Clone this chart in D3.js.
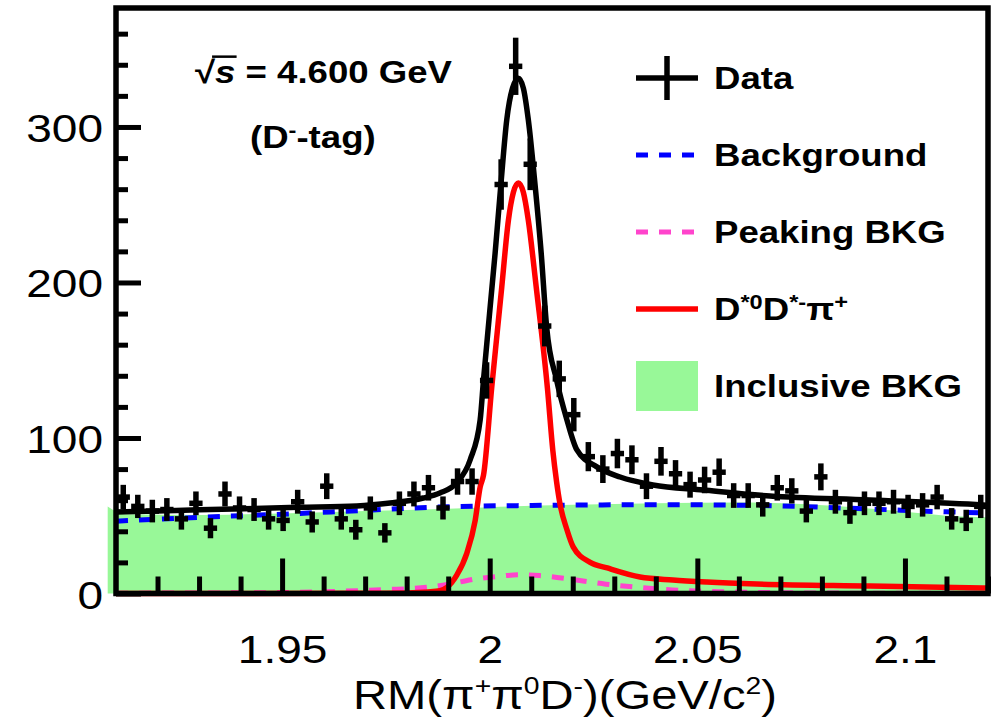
<!DOCTYPE html>
<html><head><meta charset="utf-8">
<script src="https://cdn.jsdelivr.net/npm/d3@7"></script>
<style>body{margin:0;background:#fff}svg{display:block}</style>
</head><body>
<script>
// ---------- data ----------
const binCenters = [1.91175,1.91525,1.91875,1.92225,1.92575,1.92925,1.93275,1.93625,1.93975,1.94325,
  1.94675,1.95025,1.95375,1.95725,1.96075,1.96425,1.96775,1.97125,1.97475,1.97825,
  1.98175,1.98525,1.98875,1.99225,1.99575,1.99925,2.00275,2.00625,2.00975,2.01325,
  2.01675,2.02025,2.02375,2.02725,2.03075,2.03425,2.03775,2.04125,2.04475,2.04825,
  2.05175,2.05525,2.05875,2.06225,2.06575,2.06925,2.07275,2.07625,2.07975,2.08325,
  2.08675,2.09025,2.09375,2.09725,2.10075,2.10425,2.10775,2.11125,2.11475,2.11825];
const counts = [62,56,53,54,48,58,42,64,55,54,48,47,59,46,69,48,41,55,39,58,
  64,68,55,72,72,137,263,339,276,172,138,115,88,80,90,86,69,85,77,70,
  73,78,63,63,57,68,66,53,75,59,52,58,58,59,56,57,62,48,47,56];

// total fit (black)
const fitX = [1.910,1.930,1.954,1.968,1.976,1.984,1.988,1.992,1.9953,1.9977,1.9985,2.0013,2.0027,2.0041,2.0055,2.0069,2.0081,2.0093,2.0109,2.0124,2.0137,2.0161,2.0186,2.0210,2.0258,2.0314,2.0393,2.0514,2.0675,2.0916,2.1188,2.1200];
const fitY = [52.4,53.8,55.4,56.3,58.2,61.4,64.6,71,86,111.6,137.3,218.8,263.3,304.5,325,331.3,325,304.5,263.3,218.8,171.6,137.3,111.6,92.3,81.4,74.9,69.8,66.6,62.7,60.1,56.9,56.7];
// signal D*0 D*- pi+ (red)
const sigX = [1.910,1.970,1.980,1.985,1.988,1.9897,1.9921,1.9945,1.9965,1.9977,1.9985,2.0005,2.0029,2.0045,2.0057,2.0069,2.0081,2.0093,2.0112,2.0139,2.0152,2.0161,2.0169,2.0186,2.0201,2.0242,2.0283,2.0362,2.0441,2.0523,2.0643,2.0916,2.1200];
const sigY = [0,0.1,0.4,1.0,1.8,4,12,26,47,68.5,76,133,197,240,258,264,258,240,197,132,92,72,58,41,30,20,16.4,10.6,8.7,7.4,6.1,4.8,3.5];
// peaking background (magenta)
const pkX = [1.910,1.950,1.965,1.975,1.985,1.992,1.997,2.002,2.007,2.012,2.020,2.028,2.036,2.044,2.055,2.070,2.090,2.120];
const pkY = [0.2,0.6,1.5,2.5,4,7,9.5,11,12,11.5,9,6,4,2.3,1.2,0.5,0.2,0.1];
// background (blue)
const bkgX = [1.910,1.930,1.950,1.970,1.990,2.010,2.030,2.050,2.070,2.090,2.110,2.120];
const bkgY = [46.5,49,51,53.5,55.8,56.6,57,57,56.3,54.5,52.5,51.8];
// inclusive background (green fill)
const incX = [1.908,1.912,1.930,1.950,1.970,1.990,2.000,2.020,2.040,2.060,2.075,2.090,2.100,2.110,2.120];
const incY = [56,51,50.5,51.5,53,54.5,55.5,57,58,58.5,57.5,55,52.5,50,49];

const xMajor = [1.95,2.00,2.05,2.10];
const xMajorLabels = ["1.95","2","2.05","2.1"];
const xMinor = [1.92,1.93,1.94,1.96,1.97,1.98,1.99,2.01,2.02,2.03,2.04,2.06,2.07,2.08,2.09,2.11,2.12];
const yMajor = [0,100,200,300];
const yMajorLabels = ["0","100","200","300"];
const yMinor = [20,40,60,80,120,140,160,180,220,240,260,280,320,340,360];

const legendLabels = ["Data","Background","Peaking BKG","D*0D*-π+","Inclusive BKG"];

// ---------- layout ----------
const W = 991, H = 720, SX = 1.18;
const FONT = "'Liberation Sans', Arial, Helvetica, sans-serif";
const C = {green:"#98f898", blue:"#0000ff", magenta:"#ff44cc", red:"#ff0000", black:"#000"};
const svg = d3.select("body").append("svg").attr("width", W).attr("height", H)
  .style("font-family", FONT);
const x = d3.scaleLinear().domain([1.91, 2.12]).range([116, 988]);
const y = d3.scaleLinear().domain([0, 376.5]).range([593.5, 8]);

const pts = (xs, ys) => xs.map((d, i) => [d, ys[i]]);
const line = d3.line().x(d => x(d[0])).y(d => y(d[1])).curve(d3.curveMonotoneX);

// inclusive background fill
svg.append("path").datum(pts(incX, incY))
  .attr("d", d3.area().x(d => x(d[0])).y0(y(0)).y1(d => y(d[1])).curve(d3.curveMonotoneX))
  .attr("fill", C.green);

const plot = svg.append("g");
plot.append("path").datum(pts(bkgX, bkgY)).attr("d", line)
  .attr("fill","none").attr("stroke",C.blue).attr("stroke-width",5).attr("stroke-dasharray","12,11");
plot.append("path").datum(pts(pkX, pkY)).attr("d", line)
  .attr("fill","none").attr("stroke",C.magenta).attr("stroke-width",5).attr("stroke-dasharray","12,11");
plot.append("path").datum(pts(sigX, sigY)).attr("d", line)
  .attr("fill","none").attr("stroke",C.red).attr("stroke-width",5.5);
plot.append("path").datum(pts(fitX, fitY)).attr("d", line)
  .attr("fill","none").attr("stroke",C.black).attr("stroke-width",5.5);

// axes
function styleAxis(g) {
  g.select(".domain").remove();
  g.selectAll(".tick line").attr("stroke","#000").attr("stroke-width",5);
}
const gxMin = svg.append("g").attr("transform", `translate(0,${y(0)})`)
  .call(d3.axisBottom(x).tickValues(xMinor).tickSize(-17).tickFormat(""));
styleAxis(gxMin);
const gx = svg.append("g").attr("transform", `translate(0,${y(0)})`)
  .call(d3.axisBottom(x).tickValues(xMajor).tickSize(-35).tickFormat((d, i) => xMajorLabels[i]));
styleAxis(gx);
gx.selectAll(".tick text").attr("y", 70).attr("dy", null)
  .attr("font-size", 39).attr("font-family", FONT).attr("fill","#000")
  .attr("transform", `scale(${SX},1)`);

const gyMin = svg.append("g").attr("transform", `translate(${x(1.91)},0)`)
  .call(d3.axisLeft(y).tickValues(yMinor).tickSize(-12).tickFormat(""));
styleAxis(gyMin);
const gy = svg.append("g").attr("transform", `translate(${x(1.91)},0)`)
  .call(d3.axisLeft(y).tickValues(yMajor).tickSize(-25).tickFormat((d, i) => yMajorLabels[i]));
styleAxis(gy);
gy.selectAll(".tick text").attr("x", -11).attr("dy", 14.5)
  .attr("font-size", 39).attr("font-family", FONT).attr("fill","#000")
  .attr("transform", `scale(${SX},1)`);

// frame
svg.append("rect").attr("x", x(1.91)).attr("y", y(376.5))
  .attr("width", x(2.12) - x(1.91)).attr("height", y(0) - y(376.5))
  .attr("fill","none").attr("stroke","#000").attr("stroke-width",5.5);

// data points
const errHalf = 0.0016;
const dp = svg.append("g").attr("stroke","#000").attr("stroke-width",5.5);
binCenters.forEach((c, i) => {
  const n = counts[i], e = Math.sqrt(n);
  dp.append("line").attr("x1", x(c)).attr("x2", x(c)).attr("y1", y(n - e)).attr("y2", y(n + e));
  dp.append("line").attr("x1", x(c - errHalf)).attr("x2", x(c + errHalf)).attr("y1", y(n)).attr("y2", y(n));
});

// text helper
function label(px, py, anchor, size, weight) {
  const g = svg.append("g").attr("transform", `translate(${px},${py}) scale(${SX},1)`);
  return g.append("text").attr("text-anchor", anchor).attr("font-size", size)
    .attr("font-weight", weight || "normal").attr("fill", "#000");
}
function sup(t, s, size, shift) {
  t.append("tspan").attr("font-size", size).attr("baseline-shift", shift).text(s);
}

// x title
{
  const t = label(565, 709, "middle", 40, "normal");
  t.append("tspan").text("RM(π");
  sup(t, "+", 24, "60%");
  t.append("tspan").text("π");
  sup(t, "0", 24, "60%");
  t.append("tspan").text("D");
  sup(t, "-", 24, "60%");
  t.append("tspan").text(")(GeV/c");
  sup(t, "2", 24, "60%");
  t.append("tspan").text(")");
}

// annotations
{
  const t = label(195, 83, "start", 31, "bold");
  t.append("tspan").text("√");
  t.append("tspan").attr("font-style", "italic").text("s");
  t.append("tspan").text(" = 4.600 GeV");
  const ext = t.node().getExtentOfChar(1);
  const ext0 = t.node().getExtentOfChar(0);
  d3.select(t.node().parentNode).append("line")
    .attr("x1", ext0.x + ext0.width * 0.85).attr("x2", ext.x + ext.width + 1)
    .attr("y1", ext0.y + 2).attr("y2", ext0.y + 2)
    .attr("stroke", "#000").attr("stroke-width", 2.5);

  const t2 = label(250, 148, "start", 31, "bold");
  t2.append("tspan").text("(D");
  sup(t2, "-", 20, "55%");
  t2.append("tspan").text("-tag)");
}

// legend
const LX0 = 636, LX1 = 698, LT = 714, LY0 = 78, LDY = 77;
legendLabels.forEach((lab, i) => {
  const cy = LY0 + i * LDY;
  if (i === 0) {
    svg.append("line").attr("x1", LX0).attr("x2", LX1).attr("y1", cy).attr("y2", cy)
      .attr("stroke","#000").attr("stroke-width",5.5);
    svg.append("line").attr("x1", (LX0 + LX1) / 2).attr("x2", (LX0 + LX1) / 2)
      .attr("y1", cy - 22).attr("y2", cy + 22).attr("stroke","#000").attr("stroke-width",5.5);
  } else if (i === 1 || i === 2) {
    svg.append("line").attr("x1", LX0).attr("x2", LX1).attr("y1", cy).attr("y2", cy)
      .attr("stroke", i === 1 ? C.blue : C.magenta).attr("stroke-width",5).attr("stroke-dasharray","12,11");
  } else if (i === 3) {
    svg.append("line").attr("x1", LX0).attr("x2", LX1).attr("y1", cy).attr("y2", cy)
      .attr("stroke", C.red).attr("stroke-width",5.5);
  } else {
    svg.append("rect").attr("x", LX0).attr("y", cy - 25).attr("width", LX1 - LX0).attr("height", 50)
      .attr("fill", C.green);
  }
  const t = label(LT, cy + 11, "start", 31, "bold");
  if (i === 3) {
    t.append("tspan").text("D");
    sup(t, "*0", 20, "55%");
    t.append("tspan").text("D");
    sup(t, "*-", 20, "55%");
    t.append("tspan").text("π");
    sup(t, "+", 20, "55%");
  } else {
    t.text(lab);
  }
});
</script>
</body></html>
